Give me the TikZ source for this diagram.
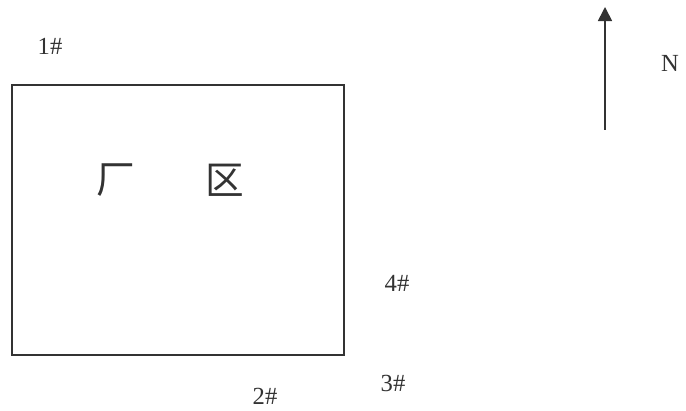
\documentclass[tikz,border=0pt]{standalone}
\usepackage{fontspec}
\setmainfont{Liberation Serif}
\newfontfamily\cjk{Noto Sans CJK SC}
\usetikzlibrary{arrows.meta, positioning}
\definecolor{mapgray}{HTML}{333333}

\begin{document}
\begin{tikzpicture}[x=0.02cm, y=-0.02cm, every node/.style={inner sep=0pt}]
          \useasboundingbox (0,0) rectangle (686,411);
          \draw[mapgray, line width=0.9pt] (12,85) rectangle (344,355);
          \node[font=\cjk\fontsize{22}{22}\selectfont, mapgray] (chang) at (116,180) {厂};
          \node[font=\cjk\fontsize{22}{22}\selectfont, mapgray] (qu) at (225,180) {区};
          \node[font=\fontsize{14}{14}\selectfont, mapgray] (p1) at (50,46) {1\#};
          \node[font=\fontsize{14}{14}\selectfont, mapgray] (p2) at (265,396) {2\#};
          \node[font=\fontsize{14}{14}\selectfont, mapgray] (p3) at (393,383) {3\#};
          \node[font=\fontsize{14}{14}\selectfont, mapgray] (p4) at (397,283) {4\#};
          \coordinate (tail) at (605,130);
          \coordinate (tip) at (605,7);
          \draw[mapgray, line width=0.9pt, -{Triangle[length=8pt, width=8pt]}] (tail) -- (tip);
          \node[font=\fontsize{14}{14}\selectfont, mapgray] (north) at (670,63) {N};
        \end{tikzpicture}
\end{document}
